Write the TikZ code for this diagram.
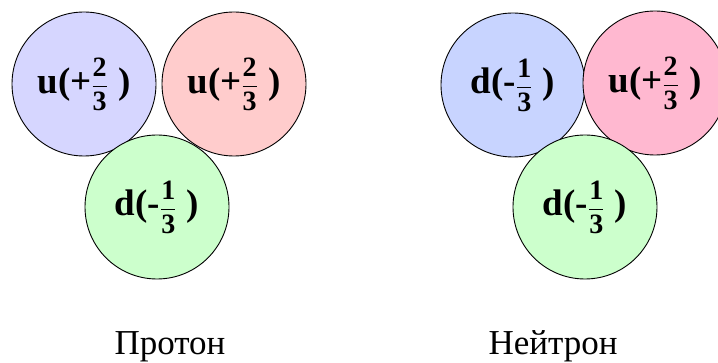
\documentclass[tikz,border=0pt]{standalone}
\usepackage{amsmath}
\usepackage{fontspec}
\setmainfont{Liberation Serif}
\definecolor{qblue}{RGB}{214,214,255}
\definecolor{qred}{RGB}{255,204,204}
\definecolor{qgreen}{RGB}{204,255,204}
\definecolor{nblue}{RGB}{200,212,255}
\definecolor{npink}{RGB}{255,184,208}
\newcommand{\qdig}[1]{\hbox{\fontsize{28}{28}\selectfont\bfseries #1}}
\newcommand{\qchg}[3]{\textbf{#1(#2$\dfrac{\qdig{#3}}{\qdig{3}}$\;)}}

\begin{document}
\begin{tikzpicture}[x=1pt,y=-1pt,
  quark/.style={circle, draw=black, line width=0.9pt, inner sep=0pt,
    minimum size=144pt, font=\fontsize{37}{40}\selectfont},
  caption/.style={anchor=base, font=\fontsize{35}{40}\selectfont}]
\useasboundingbox (0,0) rectangle (718,363);
\clip (0,0) rectangle (718,363);
% proton
\foreach \n/\x/\y/\c/\q/\s/\k in {pu1/84/84/qblue/u/+/2, pu2/234/84/qred/u/+/2, pd/157/207/qgreen/d/-/1} {
  \node[quark, fill=\c] (\n) at (\x,\y) {\qchg{\q}{\s}{\k}};
}
% neutron
\foreach \n/\x/\y/\c/\q/\s/\k in {nd1/513/85/nblue/d/-/1, nu/655/83/npink/u/+/2, nd2/585/207/qgreen/d/-/1} {
  \node[quark, fill=\c] (\n) at (\x,\y) {\qchg{\q}{\s}{\k}};
}
\node[caption] (proton) at (170,355) {Протон};
\node[caption] (neutron) at (553,355) {Нейтрон};
\end{tikzpicture}
\end{document}
